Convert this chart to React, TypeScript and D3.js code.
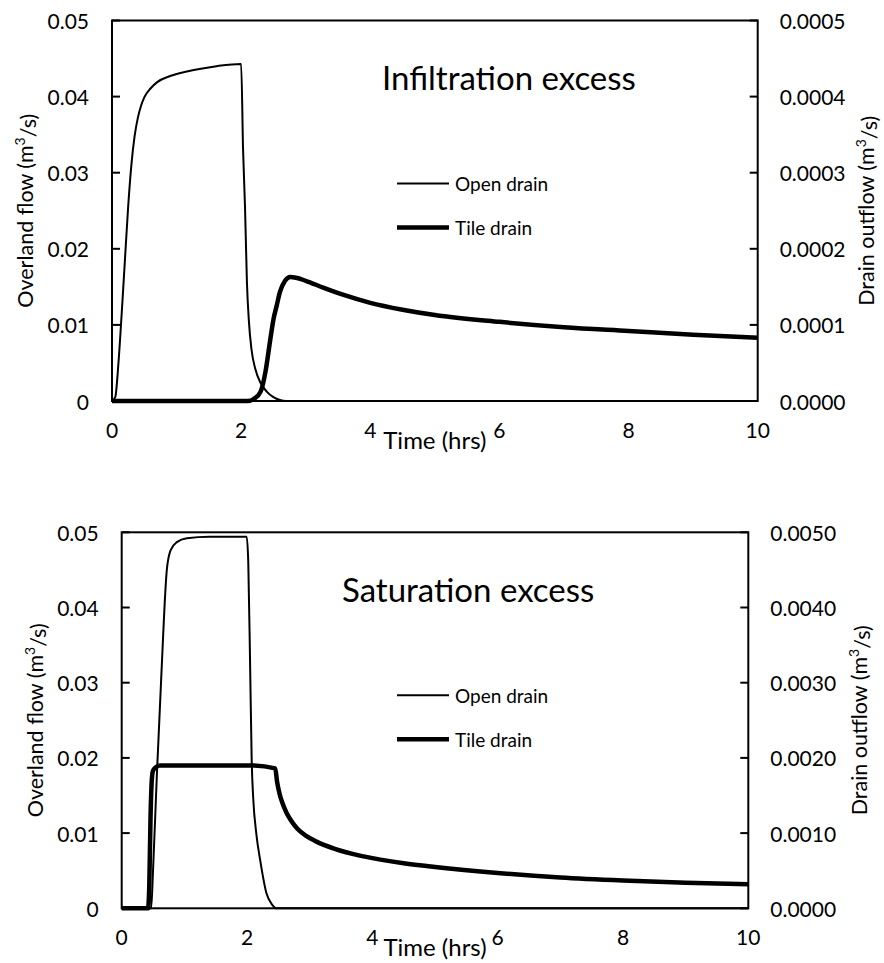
import React from "react";
import * as d3 from "d3";

// ---------- data (time in hours) ----------
// Infiltration excess
const infOpenT = [0, 0.05, 0.1, 0.15, 0.2, 0.25, 0.3, 0.35, 0.4, 0.45, 0.5, 0.6, 0.7, 0.9, 1.16, 1.62, 2.0, 2.03, 2.06, 2.09, 2.12, 2.16, 2.22, 2.3, 2.4, 2.5, 2.6, 2.7, 10];
const infOpenV = [0, 0.0005, 0.005, 0.0115, 0.0185, 0.0255, 0.031, 0.0348, 0.0372, 0.0388, 0.0399, 0.0411, 0.0419, 0.0427, 0.0433, 0.044, 0.0443, 0.033, 0.0255, 0.0155, 0.0105, 0.0068, 0.0042, 0.0024, 0.0012, 0.0005, 0.00012, 0, 0];
const infTileT = [0, 2.1, 2.2, 2.3, 2.38, 2.45, 2.5, 2.55, 2.6, 2.68, 2.76, 2.85, 3.0, 3.27, 3.6, 4.0, 4.5, 5, 6, 7, 8, 9, 10];
const infTileV = [0, 0, 0.000003, 0.000012, 0.00004, 0.00008, 0.000107, 0.000125, 0.000143, 0.000158, 0.000163, 0.000162, 0.000158, 0.000149, 0.000139, 0.000129, 0.00012, 0.000113, 0.000104, 0.000097, 0.000092, 0.000087, 0.000083];

// Saturation excess
const satOpenT = [0, 0.47, 0.5, 0.56, 0.63, 0.72, 0.78, 0.88, 1.04, 1.4, 1.995, 2.02, 2.05, 2.075, 2.1, 2.15, 2.21, 2.31, 2.4, 2.47, 10];
const satOpenV = [0, 0, 0.005, 0.0175, 0.0305, 0.045, 0.0476, 0.0487, 0.0492, 0.0494, 0.0494, 0.046, 0.032, 0.0195, 0.0145, 0.0098, 0.0064, 0.002, 0.0005, 0, 0];
const satTileT = [0, 0.42, 0.44, 0.46, 0.48, 0.5, 0.55, 0.61, 2.07, 2.45, 2.48, 2.52, 2.57, 2.63, 2.7, 2.8, 2.95, 3.1, 3.4, 3.86, 4.5, 5, 6, 7, 8, 9, 10];
const satTileV = [0, 0, 0.0003, 0.0012, 0.0017, 0.00183, 0.00188, 0.0019, 0.0019, 0.00186, 0.00168, 0.00152, 0.00139, 0.00127, 0.00117, 0.00106, 0.00096, 0.00089, 0.00079, 0.00069, 0.0006, 0.00055, 0.00047, 0.00041, 0.00037, 0.00034, 0.00032];

const xTicks = [0, 2, 4, 6, 8, 10];
const leftTicks = [0, 0.01, 0.02, 0.03, 0.04, 0.05];
const infRightTicks = [0, 0.0001, 0.0002, 0.0003, 0.0004, 0.0005];
const satRightTicks = [0, 0.001, 0.002, 0.003, 0.004, 0.005];

const legendLabels = ["Open drain", "Tile drain"];
const xTitle = "Time (hrs)";
const leftTitle = "Overland flow (m";
const rightTitle = "Drain outflow (m";

const FONT = "Lato, 'Open Sans', sans-serif";

type PanelProps = {
  box: { left: number; right: number; top: number; bottom: number };
  rightMax: number;
  rightTicks: number[];
  openT: number[]; openV: number[];
  tileT: number[]; tileV: number[];
  title: string; titleX: number; titleY: number;
  leftTitleX: number; rightTitleX: number;
};

function AxisTitle({ x, y, text }: { x: number; y: number; text: string }) {
  return (
    <text transform={`translate(${x},${y}) rotate(-90)`} textAnchor="middle" dominantBaseline="central"
      fontFamily={FONT} fontSize={21.5}>
      {text}
      <tspan dy="-0.45em" fontSize="14">3</tspan>
      <tspan dy="0.45em">/s)</tspan>
    </text>
  );
}

function Panel(p: PanelProps) {
  const { box } = p;
  const x = d3.scaleLinear().domain([0, 10]).range([box.left, box.right]);
  const yL = d3.scaleLinear().domain([0, 0.05]).range([box.bottom, box.top]);
  const yR = d3.scaleLinear().domain([0, p.rightMax]).range([box.bottom, box.top]);
  const openLine = d3.line<number>().x((_, i) => x(p.openT[i])).y((v) => yL(v)).curve(d3.curveMonotoneX);
  const tileLine = d3.line<number>().x((_, i) => x(p.tileT[i])).y((v) => yR(v)).curve(d3.curveMonotoneX);
  const fmtL = (v: number) => (v === 0 ? "0" : d3.format(".2f")(v));
  const fmtR = d3.format(".4f");
  const cx = (box.left + box.right) / 2;
  const cy = (box.top + box.bottom) / 2;
  const lx0 = 397, lx1 = 449;
  const ly = [box.top + 163, box.top + 207];
  return (
    <g>
      <path d={tileLine(p.tileV) || ""} fill="none" stroke="#000" strokeWidth={4.5} strokeLinejoin="round" />
      <path d={openLine(p.openV) || ""} fill="none" stroke="#000" strokeWidth={2} strokeLinejoin="round" />
      <rect x={box.left} y={box.top} width={box.right - box.left} height={box.bottom - box.top}
        fill="none" stroke="#000" strokeWidth={2} />
      {leftTicks.map((t) => (
        <g key={"l" + t}>
          <line x1={box.left} x2={box.left + 8} y1={yL(t)} y2={yL(t)} stroke="#000" strokeWidth={2} />
          <text x={box.left - 23} y={yL(t)} textAnchor="end" dominantBaseline="central" fontFamily={FONT} fontSize={21}>{fmtL(t)}</text>
        </g>
      ))}
      {p.rightTicks.map((t) => (
        <g key={"r" + t}>
          <line x1={box.right - 8} x2={box.right} y1={yR(t)} y2={yR(t)} stroke="#000" strokeWidth={2} />
          <text x={box.right + 22} y={yR(t)} textAnchor="start" dominantBaseline="central" fontFamily={FONT} fontSize={21}>{fmtR(t)}</text>
        </g>
      ))}
      {xTicks.map((t) => (
        <text key={"x" + t} x={x(t)} y={box.bottom + 37} textAnchor="middle" fontFamily={FONT} fontSize={21}>{t}</text>
      ))}
      <text x={cx} y={box.bottom + 48} textAnchor="middle" fontFamily={FONT} fontSize={24}>{xTitle}</text>
      <AxisTitle x={p.leftTitleX} y={cy} text={leftTitle} />
      <AxisTitle x={p.rightTitleX} y={cy} text={rightTitle} />
      <text x={p.titleX} y={p.titleY} fontFamily={FONT} fontSize={33}>{p.title}</text>
      {legendLabels.map((lab, i) => (
        <g key={lab}>
          <line x1={lx0} x2={lx1} y1={ly[i]} y2={ly[i]} stroke="#000" strokeWidth={i === 0 ? 2 : 4.5} />
          <text x={455} y={ly[i]} dominantBaseline="central" fontFamily={FONT} fontSize={19}>{lab}</text>
        </g>
      ))}
    </g>
  );
}

export default function App() {
  return (
    <svg width={884} height={963} style={{ position: "absolute", left: 0, top: 0, background: "#fff" }}>
      <rect width={884} height={963} fill="#fff" />
      <Panel box={{ left: 112, right: 757.7, top: 20.5, bottom: 401 }} rightMax={0.0005} rightTicks={infRightTicks}
        openT={infOpenT} openV={infOpenV} tileT={infTileT} tileV={infTileV}
        title="Infiltration excess" titleX={382} titleY={89.5} leftTitleX={25} rightTitleX={866} />
      <Panel box={{ left: 121.7, right: 748.3, top: 532.3, bottom: 908.3 }} rightMax={0.005} rightTicks={satRightTicks}
        openT={satOpenT} openV={satOpenV} tileT={satTileT} tileV={satTileV}
        title="Saturation excess" titleX={342} titleY={601.7} leftTitleX={35} rightTitleX={859} />
    </svg>
  );
}
